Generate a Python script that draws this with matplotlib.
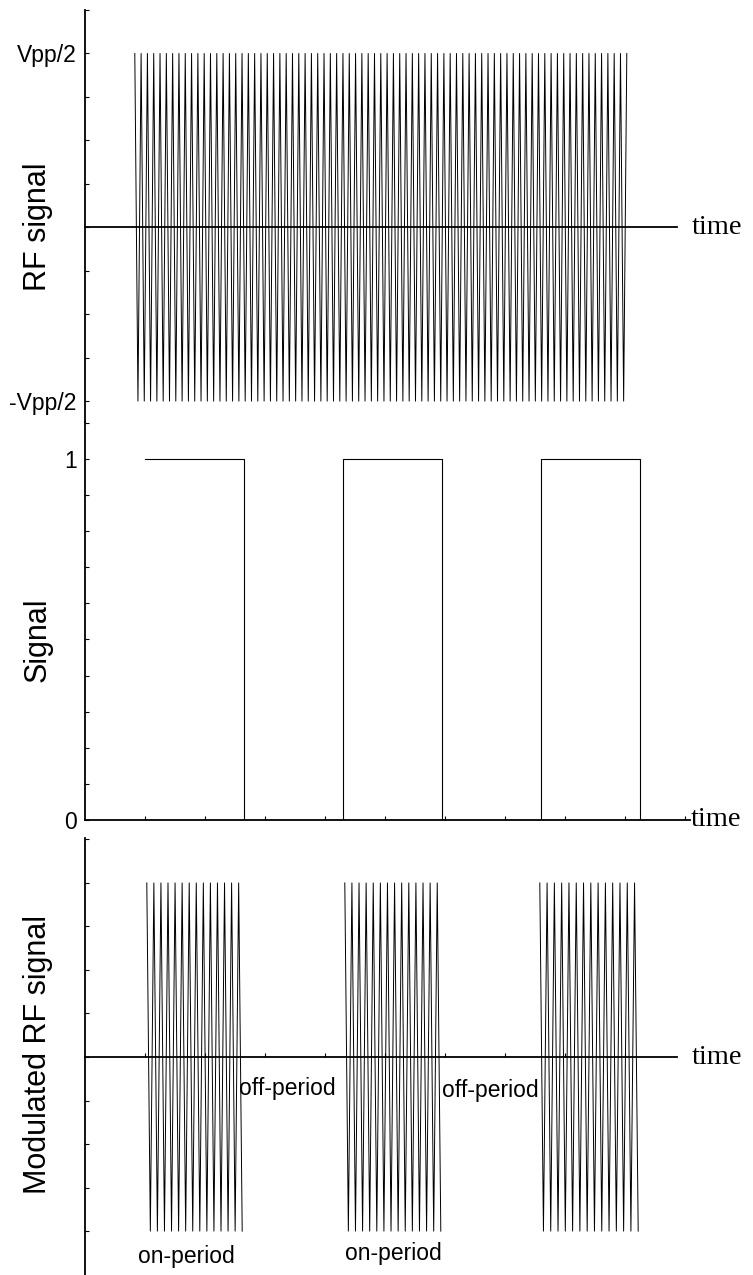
import numpy as np
import matplotlib
matplotlib.use("Agg")
import matplotlib.pyplot as plt

plt.rcParams['font.family'] = ['Liberation Sans', 'DejaVu Sans']

# --- data (time in arbitrary units, 1 unit = one x tick) ---
rf_span = (0.83, 9.03)          # continuous RF carrier
rf_half_cycles = 156
rf_amp = 0.5                    # Vpp/2

pulse_on = [1.0, 4.3, 7.6]      # modulation signal on-edges
pulse_off = [2.65, 5.95, 9.25]  # modulation signal off-edges

burst_on = [1.03, 4.33, 7.58]   # modulated RF bursts
burst_off = [2.62, 5.93, 9.22]
burst_half_cycles = 27
burst_amp = 0.5

rf_ticks = [-0.5, 0.5]
rf_ticklabels = ['-Vpp/2', 'Vpp/2']
sig_ticks = [0, 1]
sig_ticklabels = ['0', '1']

off_label_x = [2.57, 5.95]
off_label_y = [-0.089, -0.095]
on_label_x = [0.88, 4.33]
on_label_y = [-0.572, -0.563]


def zigzag(t0, t1, n_half, amp):
    t = np.linspace(t0, t1, n_half + 1)
    y = amp * np.where(np.arange(n_half + 1) % 2 == 0, 1, -1)
    return t, y


W, H = 753, 1275
fig = plt.figure(figsize=(W / 100, H / 100), dpi=100)


def px_axes(x0, y0, x1, y1):
    return fig.add_axes([x0 / W, 1 - y1 / H, (x1 - x0) / W, (y1 - y0) / H])


xmax = (690 - 85) / 60
line_end = (677 - 85) / 60
label_x = (38 - 85) / 605

ax1 = px_axes(85, 10, 690, 422)
ax2 = px_axes(85, 422, 690, 820)
ax3 = px_axes(85, 838, 690, 1275)

for ax in (ax1, ax2, ax3):
    ax.set_xlim(0, xmax)
    ax.spines['top'].set_visible(False)
    ax.spines['right'].set_visible(False)
    ax.spines['left'].set_linewidth(1.3)
    ax.spines['bottom'].set_linewidth(1.3)
    ax.tick_params(axis='both', direction='in', length=3, width=0.8,
                   labelsize=16.5, pad=6)
    ax.set_xticks(np.arange(1, 10))
    ax.set_xticklabels([])

# top: RF signal
t, y = zigzag(rf_span[0], rf_span[1], rf_half_cycles, rf_amp)
ax1.plot(t, y, color='black', lw=0.7)
ax1.set_ylim(-0.560, 0.624)
ax1.spines['bottom'].set_position(('data', 0))
ax1.spines['bottom'].set_bounds(0, line_end)
ax1.tick_params(axis='x', length=0)
ax1.set_yticks(np.arange(-0.5, 0.63, 0.125), minor=True)
ax1.set_yticks(rf_ticks)
ax1.set_yticklabels(rf_ticklabels)
ax1.tick_params(axis='y', which='minor', direction='in', length=3, width=0.8)
ax1.set_ylabel('RF signal', fontsize=22, va='center')
ax1.yaxis.set_label_coords(label_x, (422 - 227) / 412)
ax1.text(10.12, 0, 'time', family='Liberation Serif', fontsize=20.5,
         ha='left', va='center', clip_on=False)

# middle: modulation signal
for a, b in zip(pulse_on, pulse_off):
    ax2.plot([a, a, b, b], [0 if a != pulse_on[0] else 1, 1, 1, 0],
             color='black', lw=0.8)
ax2.set_ylim(0, 1.102)
ax2.set_xticks(np.arange(1, 11))
ax2.set_xticklabels([])
ax2.set_yticks(np.arange(0, 1.11, 0.1), minor=True)
ax2.set_yticks(sig_ticks)
ax2.set_yticklabels(sig_ticklabels)
ax2.tick_params(axis='y', which='minor', direction='in', length=3, width=0.8)
ax2.set_ylabel('Signal', fontsize=22, va='center')
ax2.yaxis.set_label_coords(label_x, (820 - 640) / 398)
ax2.text(10.1, 0, 'time', family='Liberation Serif', fontsize=20.5,
         ha='left', va='center', clip_on=False)

# bottom: modulated RF signal
for a, b in zip(burst_on, burst_off):
    t, y = zigzag(a, b, burst_half_cycles, burst_amp)
    ax3.plot(t, y, color='black', lw=0.7)
ax3.set_ylim(-0.626, 0.629)
ax3.spines['bottom'].set_position(('data', 0))
ax3.spines['bottom'].set_bounds(0, line_end)
ax3.set_yticks(np.arange(-0.5, 0.63, 0.125))
ax3.set_yticklabels([])
ax3.set_ylabel('Modulated RF signal', fontsize=22, va='center')
ax3.yaxis.set_label_coords(label_x, (1275 - 1055) / 437)
ax3.text(10.12, 0, 'time', family='Liberation Serif', fontsize=20.5,
         ha='left', va='center', clip_on=False)
for x, yy in zip(off_label_x, off_label_y):
    ax3.text(x, yy, 'off-period', fontsize=16.5, ha='left', va='center')
for x, yy in zip(on_label_x, on_label_y):
    ax3.text(x, yy, 'on-period', fontsize=16.5, ha='left', va='center',
             clip_on=False)

fig.savefig('out.png', dpi=100)
